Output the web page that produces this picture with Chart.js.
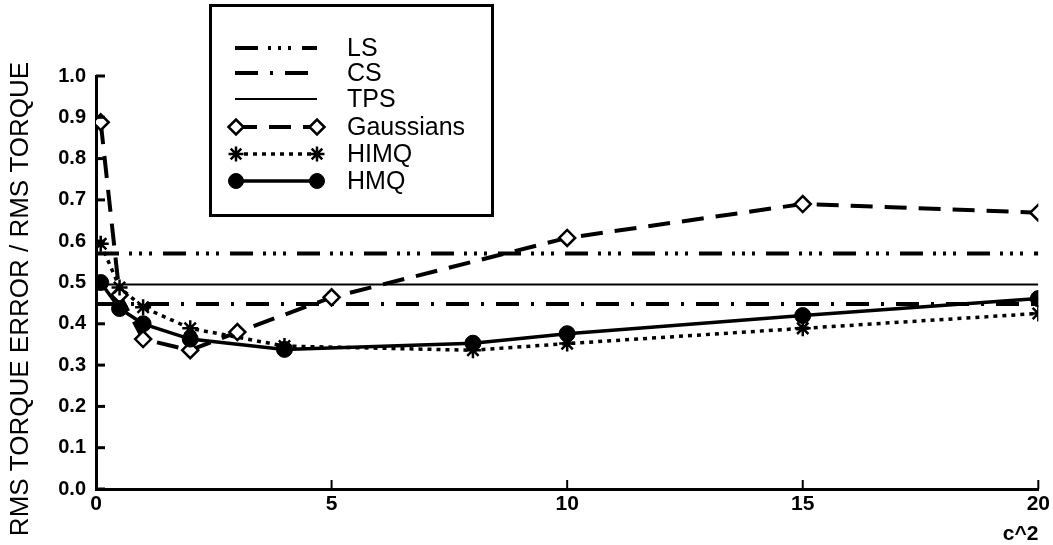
<!DOCTYPE html>
<html>
<head>
<meta charset="utf-8">
<title>RMS torque error vs c^2</title>
<script src="https://cdn.jsdelivr.net/npm/chart.js@4.4.1/dist/chart.umd.min.js"></script>
<style>
    body { margin: 0; background: #fff; }
    #wrap { width: 1053px; height: 545px; }
</style>
</head>
<body>
<div id="wrap"><canvas id="torqueChart" width="1053" height="545"></canvas></div>
<script>
// values
const hmqC2 = [0.1, 0.5, 1, 2, 4, 8, 10, 15, 20];
const hmqErr = [0.50, 0.437, 0.40, 0.363, 0.338, 0.353, 0.376, 0.42, 0.461];

const himqC2 = [0.1, 0.5, 1, 2, 4, 8, 10, 15, 20];
const himqErr = [0.594, 0.488, 0.44, 0.389, 0.346, 0.336, 0.352, 0.389, 0.425];

const gaussC2 = [0.1, 0.5, 1, 2, 3, 5, 10, 15, 20];
const gaussErr = [0.888, 0.47, 0.363, 0.336, 0.38, 0.464, 0.608, 0.69, 0.669];

// LS, CS and TPS do not depend on c^2
const flatC2 = [0, 20];
const lsErr = 0.57;
const csErr = 0.448;
const tpsErr = 0.495;

const xTickValues = [0, 5, 10, 15, 20];
const yTickValues = [0, 0.1, 0.2, 0.3, 0.4, 0.5, 0.6, 0.7, 0.8, 0.9, 1.0];

const yTitle = "RMS TORQUE ERROR / RMS TORQUE";
const xTitle = "c^2";

const FONT = '"Liberation Sans", Arial, Helvetica, sans-serif';
const NARROW = '"Liberation Sans Narrow", "Arial Narrow", "Liberation Sans", Arial, sans-serif';

function pairs(xs, ys) {
    return xs.map((x, i) => ({ x: x, y: ys[i] }));
}

function flat(level) {
    return flatC2.map(x => ({ x: x, y: level }));
}

const datasets = [
    { label: 'LS', data: flat(lsErr), borderColor: '#000', borderWidth: 4,
      borderDash: [23, 10, 3, 7, 3, 7, 3, 11], pointRadius: 0, order: 4 },
    { label: 'CS', data: flat(csErr), borderColor: '#000', borderWidth: 4,
      borderDash: [23, 12, 3, 12], pointRadius: 0, order: 4 },
    { label: 'TPS', data: flat(tpsErr), borderColor: '#000', borderWidth: 2,
      pointRadius: 0, order: 4 },
    { label: 'Gaussians', data: pairs(gaussC2, gaussErr), borderColor: '#000', borderWidth: 4,
      borderDash: [22, 12],
      pointStyle: 'rectRot', pointRadius: 8, pointBorderWidth: 2.5,
      pointBackgroundColor: '#fff', pointBorderColor: '#000', order: 3 },
    { label: 'HIMQ', data: pairs(himqC2, himqErr), borderColor: '#000', borderWidth: 3.5,
      borderDash: [4, 5], pointStyle: 'star', pointRadius: 8, pointBorderWidth: 2.5,
      pointBackgroundColor: '#000', pointBorderColor: '#000', order: 2 },
    { label: 'HMQ', data: pairs(hmqC2, hmqErr), borderColor: '#000', borderWidth: 3.5,
      pointStyle: 'circle', pointRadius: 8, pointBorderWidth: 1,
      pointBackgroundColor: '#000', pointBorderColor: '#000', order: 1 }
];

function drawMarker(ctx, ds, x, y) {
    if (!ds.pointStyle) return;
    ctx.setLineDash([]);
    ctx.fillStyle = ds.pointBackgroundColor;
    ctx.strokeStyle = ds.pointBorderColor;
    ctx.lineWidth = ds.pointBorderWidth;
    Chart.helpers.drawPoint(ctx, {
        pointStyle: ds.pointStyle,
        radius: ds.pointRadius - 0.5,
        borderWidth: ds.pointBorderWidth,
        rotation: 0
    }, x, y);
}

function drawLegend(chart) {
    const ctx = chart.ctx;
    const rows = [48, 73, 99, 127, 154, 181];
    const x0 = 236, x1 = 317;

    ctx.save();
    ctx.fillStyle = '#fff';
    ctx.fillRect(209, 5, 284, 211);
    ctx.strokeStyle = '#000';
    ctx.lineWidth = 3;
    ctx.strokeRect(210.5, 5.5, 282, 210);

    chart.data.datasets.forEach((ds, i) => {
        const y = rows[i];
        ctx.strokeStyle = ds.borderColor;
        ctx.lineWidth = ds.borderWidth;
        ctx.setLineDash(ds.borderDash || []);
        ctx.beginPath();
        ctx.moveTo(x0 - 1, y);
        ctx.lineTo(x1, y);
        ctx.stroke();
        drawMarker(ctx, ds, x0, y);
        drawMarker(ctx, ds, x1, y);

        ctx.fillStyle = '#000';
        ctx.font = '25px ' + FONT;
        ctx.textAlign = 'left';
        ctx.textBaseline = 'middle';
        ctx.fillText(ds.label, 347, y + 1);
    });
    ctx.restore();
}

const paperFrame = {
    id: 'paperFrame',
    afterDraw(chart) {
        const { ctx, chartArea, scales } = chart;
        ctx.save();
        ctx.strokeStyle = '#000';
        ctx.lineCap = 'butt';

        // tick marks point into the plot
        ctx.lineWidth = 3;
        yTickValues.forEach(v => {
            const py = scales.y.getPixelForValue(v);
            ctx.beginPath();
            ctx.moveTo(chartArea.left, py);
            ctx.lineTo(chartArea.left + 9, py);
            ctx.stroke();
        });
        ctx.lineWidth = 2;
        xTickValues.slice(1).forEach(v => {
            const px = scales.x.getPixelForValue(v);
            ctx.beginPath();
            ctx.moveTo(px, chartArea.bottom);
            ctx.lineTo(px, chartArea.bottom - 9);
            ctx.stroke();
        });

        // y axis title sits a bit lower than the axis centre
        ctx.fillStyle = '#000';
        ctx.font = '26px ' + FONT;
        ctx.textAlign = 'center';
        ctx.textBaseline = 'middle';
        ctx.translate(21, 299);
        ctx.rotate(-Math.PI / 2);
        ctx.fillText(yTitle, 0, 0);
        ctx.restore();

        drawLegend(chart);
    }
};

const ctx = document.getElementById('torqueChart').getContext('2d');

new Chart(ctx, {
    type: 'line',
    data: { datasets: datasets },
    plugins: [paperFrame],
    options: {
        responsive: false,
        animation: false,
        layout: { padding: { left: 0, right: 14, top: 76, bottom: 0 } },
        plugins: {
            legend: { display: false },
            tooltip: { enabled: false }
        },
        scales: {
            x: {
                type: 'linear',
                min: 0,
                max: 20,
                grid: { display: false, drawTicks: false },
                border: { display: true, width: 3, color: '#000' },
                afterBuildTicks: s => { s.ticks = xTickValues.map(v => ({ value: v })); },
                afterFit: s => { s.height = 56; },
                ticks: {
                    color: '#000',
                    padding: 3,
                    maxRotation: 0,
                    autoSkip: false,
                    font: { family: NARROW, size: 21, weight: 'bold' }
                },
                title: {
                    display: true,
                    text: xTitle,
                    align: 'end',
                    color: '#000',
                    padding: 0,
                    font: { family: FONT, size: 21, weight: 'bold', lineHeight: 1 }
                }
            },
            y: {
                type: 'linear',
                min: 0,
                max: 1,
                grid: { display: false, drawTicks: false },
                border: { display: true, width: 3, color: '#000' },
                afterBuildTicks: s => { s.ticks = yTickValues.map(v => ({ value: v })); },
                afterFit: s => { s.width = 96; },
                ticks: {
                    color: '#000',
                    padding: 10,
                    autoSkip: false,
                    font: { family: FONT, size: 20, weight: 'bold' },
                    callback: v => v.toFixed(1)
                }
            }
        }
    }
});
</script>
</body>
</html>
